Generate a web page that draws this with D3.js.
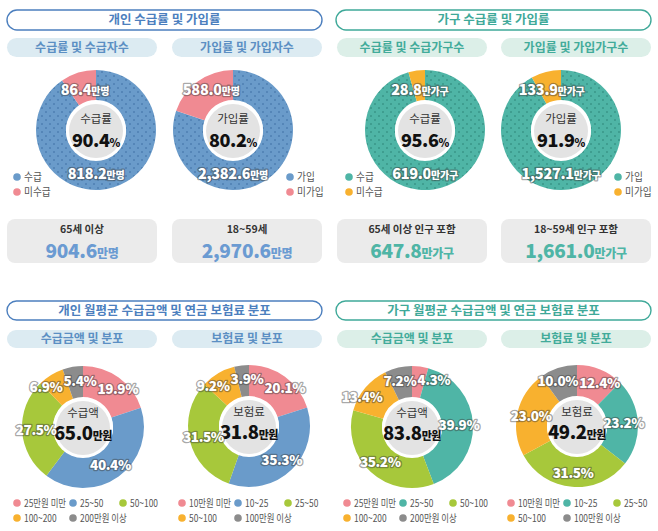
<!DOCTYPE html>
<html><head><meta charset="utf-8">
<script src="https://cdn.jsdelivr.net/npm/d3@7"></script>
<style>
body{margin:0;background:#fff}
svg{display:block}
text{font-family:"Noto Sans CJK KR","Noto Sans",sans-serif}
</style>
</head><body>
<svg id="c" width="658" height="531"></svg>
<script>
// ---------- DATA ----------
const sectionTitlesTop = ["개인 수급률 및 가입률", "가구 수급률 및 가입률"];
const sectionTitlesBottom = ["개인 월평균 수급금액 및 연금 보험료 분포", "가구 월평균 수급금액 및 연금 보험료 분포"];
const subTitlesTop = ["수급률 및 수급자수", "가입률 및 가입자수", "수급률 및 수급가구수", "가입률 및 가입가구수"];
const subTitlesBottom = ["수급금액 및 분포", "보험료 및 분포", "수급금액 및 분포", "보험료 및 분포"];

const receiptCategories = ["수급", "미수급"];
const joinCategories = ["가입", "미가입"];
const personalReceiptCount = [818.2, 86.4];   // 만명
const personalJoinCount = [2382.6, 588.0];    // 만명
const householdReceiptCount = [619.0, 28.8];  // 만가구
const householdJoinCount = [1527.1, 133.9];   // 만가구
const rateNames = ["수급률", "가입률", "수급률", "가입률"];
const rateValues = [90.4, 80.2, 95.6, 91.9];
const totalLabels = ["65세 이상", "18~59세", "65세 이상 인구 포함", "18~59세 인구 포함"];
const totalValues = [904.6, 2970.6, 647.8, 1661.0];
const countUnits = ["만명", "만명", "만가구", "만가구"];

const amountCategories = ["25만원 미만", "25~50", "50~100", "100~200", "200만원 이상"];
const premiumCategories = ["10만원 미만", "10~25", "25~50", "50~100", "100만원 이상"];
const personalAmountShare = [19.9, 40.4, 27.5, 6.9, 5.4];
const personalPremiumShare = [20.1, 35.3, 31.5, 9.2, 3.9];
const householdAmountShare = [4.3, 39.9, 35.2, 13.4, 7.2];
const householdPremiumShare = [12.4, 23.2, 31.5, 23.0, 10.0];
const avgNames = ["수급액", "보험료", "수급액", "보험료"];
const avgValues = [65.0, 31.8, 83.8, 49.2];
const avgUnit = "만원";

// ---------- STYLE / LAYOUT ----------
const themes = {
  blue: {title:"#4c7fbe", pill:"#dcebf2", pillText:"#5b8fc3", main:"#6a9bca", dot:"#4c7db0", minor:"#f08a92", value:"#6b9bd2",
         bottom:["#f08a92","#6a9bca","#a7c83b","#f8b12f","#8c8c8c"]},
  teal: {title:"#3fa999", pill:"#dcefe8", pillText:"#42ab9a", main:"#4fb5a6", dot:"#379486", minor:"#f8b12f", value:"#4fb5a6",
         bottom:["#f08a92","#4fb5a6","#a7c83b","#f8b12f","#8c8c8c"]}
};
const svg = d3.select("#c");
const defs = svg.append("defs");

Object.entries(themes).forEach(([k, t]) => {
  const p = defs.append("pattern").attr("id", "dots-" + k).attr("patternUnits", "userSpaceOnUse")
    .attr("width", 8).attr("height", 8);
  p.append("rect").attr("width", 8).attr("height", 8).attr("fill", t.main);
  p.append("circle").attr("cx", 2).attr("cy", 2).attr("r", 0.95).attr("fill", t.dot);
  p.append("circle").attr("cx", 6).attr("cy", 6).attr("r", 0.95).attr("fill", t.dot);
});
const fmt1 = d3.format(",.1f");

function titlePill(x, y, w, h, txt, t) {
  svg.append("rect").attr("x", x).attr("y", y).attr("width", w).attr("height", h)
    .attr("rx", h / 2).attr("fill", "#fff").attr("stroke", t.title).attr("stroke-width", 1.4);
  svg.append("text").attr("x", x + w / 2).attr("y", y + h / 2 + 4.3).attr("text-anchor", "middle")
    .attr("font-size", 12.5).attr("font-weight", 700).attr("fill", t.title).text(txt);
}
function subPill(x, y, w, h, txt, t) {
  svg.append("rect").attr("x", x).attr("y", y).attr("width", w).attr("height", h)
    .attr("rx", h / 2).attr("fill", t.pill);
  svg.append("text").attr("x", x + w / 2).attr("y", y + h / 2 + 4.2).attr("text-anchor", "middle")
    .attr("font-size", 12).attr("font-weight", 700).attr("fill", t.pillText).text(txt);
}
function shadowText(g, x, y, parts, ls) {
  const tx = g.append("text").attr("x", x).attr("y", y).attr("text-anchor", "middle")
    .attr("font-weight", 800).attr("fill", "#fff").attr("letter-spacing", ls)
    .attr("stroke", "rgba(60,60,60,0.45)").attr("stroke-width", 2.6).attr("stroke-linejoin", "round")
    .attr("paint-order", "stroke");
  parts.forEach(p => tx.append("tspan").attr("font-size", p[1]).text(p[0]));
  return tx;
}
function condensedText(x, y, txt, size, sx) {
  svg.append("g").attr("transform", `translate(${x},${y}) scale(${sx},1)`)
    .append("text").attr("font-size", size).attr("fill", "#555").text(txt);
}
function centerDisc(g, cx, cy, r, name, value, unit, nameDy, valDy, valSize) {
  g.append("circle").attr("cx", cx).attr("cy", cy).attr("r", r + 3).attr("fill", "#fff");
  g.append("circle").attr("cx", cx).attr("cy", cy).attr("r", r).attr("fill", "#e3e3e3");
  g.append("text").attr("x", cx).attr("y", cy + nameDy).attr("text-anchor", "middle")
    .attr("font-size", 11.5).attr("fill", "#333").text(name);
  const v = g.append("text").attr("x", cx).attr("y", cy + valDy).attr("text-anchor", "middle")
    .attr("font-weight", 800).attr("fill", "#111").attr("letter-spacing", -0.4);
  v.append("tspan").attr("font-size", valSize).text(value);
  v.append("tspan").attr("font-size", 11).text(unit);
}

// ---------- TOP SECTION ----------
titlePill(7, 10, 315, 20, sectionTitlesTop[0], themes.blue);
titlePill(336, 10, 315, 20, sectionTitlesTop[1], themes.teal);
const pillX = [7, 172, 337, 501];
const topThemes = [themes.blue, themes.blue, themes.teal, themes.teal];
const topKeys = ["blue", "blue", "teal", "teal"];
pillX.forEach((x, i) => subPill(x, 38, 150, 19, subTitlesTop[i], topThemes[i]));

const topCounts = [personalReceiptCount, personalJoinCount, householdReceiptCount, householdJoinCount];
const topCats = [receiptCategories, joinCategories, receiptCategories, joinCategories];
const topCenters = [[96, 130], [233, 130], [425, 130], [561, 130]];
const legendX = [17, 290, 349, 618];
const R1 = 60, r1 = 30;
const pie = d3.pie().sort(null).value(d => d);
const arcTop = d3.arc().innerRadius(r1).outerRadius(R1);
const arcTopLabel = d3.arc().innerRadius(28).outerRadius(60);

topCounts.forEach((vals, i) => {
  const t = topThemes[i];
  const [cx, cy] = topCenters[i];
  const g = svg.append("g");
  const arcs = pie(vals);
  const gg = g.append("g").attr("transform", `translate(${cx},${cy})`);
  gg.selectAll("path").data(arcs).join("path").attr("d", arcTop)
    .attr("fill", (d, j) => j === 0 ? `url(#dots-${topKeys[i]})` : t.minor);
  centerDisc(g, cx, cy + 1, 27, rateNames[i], rateValues[i].toFixed(1), "%", -8, 16, 18);
  const c = arcTopLabel.centroid(arcs[1]);
  shadowText(g, cx + c[0] * 0.85, cy - 35, [[fmt1(vals[1]), 14.5], [countUnits[i], 10]], -0.3);
  shadowText(g, cx, cy + 49, [[fmt1(vals[0]), 14.5], [countUnits[i], 10]], -0.3);
  topCats[i].forEach((name, j) => {
    const ly = 177 + j * 15;
    const lx = legendX[i];
    svg.append("circle").attr("cx", lx).attr("cy", ly).attr("r", 3.8).attr("fill", j === 0 ? t.main : t.minor);
    condensedText(lx + 7, ly + 4, name, 11, 0.88);
  });
  const bx = pillX[i];
  svg.append("rect").attr("x", bx).attr("y", 219).attr("width", 150).attr("height", 44).attr("rx", 8).attr("fill", "#ebebeb");
  svg.append("text").attr("x", bx + 75).attr("y", 233).attr("text-anchor", "middle").attr("font-size", 10.5)
    .attr("font-weight", 700).attr("fill", "#333").text(totalLabels[i]);
  const vt = svg.append("text").attr("x", bx + 75).attr("y", 258).attr("text-anchor", "middle")
    .attr("font-weight", 800).attr("fill", t.value).attr("letter-spacing", -0.3);
  vt.append("tspan").attr("font-size", 19).text(fmt1(totalValues[i]));
  vt.append("tspan").attr("font-size", 12).text(countUnits[i]);
});

// ---------- BOTTOM SECTION ----------
titlePill(7, 301, 315, 19, sectionTitlesBottom[0], themes.blue);
titlePill(336, 301, 315, 19, sectionTitlesBottom[1], themes.teal);
pillX.forEach((x, i) => subPill(x, 330, 150, 18, subTitlesBottom[i], topThemes[i]));

const botShares = [personalAmountShare, personalPremiumShare, householdAmountShare, householdPremiumShare];
const botCats = [amountCategories, premiumCategories, amountCategories, premiumCategories];
const botCenters = [[83, 427], [249, 426], [412, 427], [577, 426]];
const R2 = 61, r2 = 30;
const arcBot = d3.arc().innerRadius(r2).outerRadius(R2);
const arcBotLabel = d3.arc().innerRadius(33).outerRadius(61);
const legendOffsets = [10, 66, 116, 10, 66];
const legendRows = [0, 0, 0, 1, 1];
const LBL = 13.5;

botShares.forEach((vals, i) => {
  const t = topThemes[i];
  const [cx, cy] = botCenters[i];
  const g = svg.append("g");
  const arcs = pie(vals);
  const gg = g.append("g").attr("transform", `translate(${cx},${cy})`);
  gg.selectAll("path").data(arcs).join("path").attr("d", arcBot).attr("fill", (d, j) => t.bottom[j]);
  centerDisc(g, cx, cy + 1, 27, avgNames[i], avgValues[i].toFixed(1), avgUnit, -11, 12, 18.5);
  const labs = arcs.map(a => {
    const c = arcBotLabel.centroid(a);
    const node = shadowText(g, cx + c[0], cy + c[1] + 5, [[a.data.toFixed(1) + "%", LBL]], -0.4);
    return {x: cx + c[0], y: cy + c[1], node, w: node.node().getComputedTextLength()};
  });
  for (let it = 0; it < 6; it++) {
    for (let a = 0; a < labs.length; a++) for (let b = a + 1; b < labs.length; b++) {
      const A = labs[a], B = labs[b];
      const need = (A.w + B.w) / 2 + 1;
      if (Math.abs(A.y - B.y) < 17 && Math.abs(A.x - B.x) < need) {
        const push = (need - Math.abs(A.x - B.x)) / 2;
        const s = A.x < B.x ? -1 : 1;
        A.x += s * push; B.x -= s * push;
      }
    }
  }
  labs.forEach(l => l.node.attr("x", l.x));
  botCats[i].forEach((name, j) => {
    const lx = pillX[i] + legendOffsets[j];
    const ly = 503 + legendRows[j] * 15;
    svg.append("circle").attr("cx", lx).attr("cy", ly).attr("r", 3.8).attr("fill", t.bottom[j]);
    condensedText(lx + 7, ly + 4, name, 10.5, 0.8);
  });
});
</script>
</body></html>
